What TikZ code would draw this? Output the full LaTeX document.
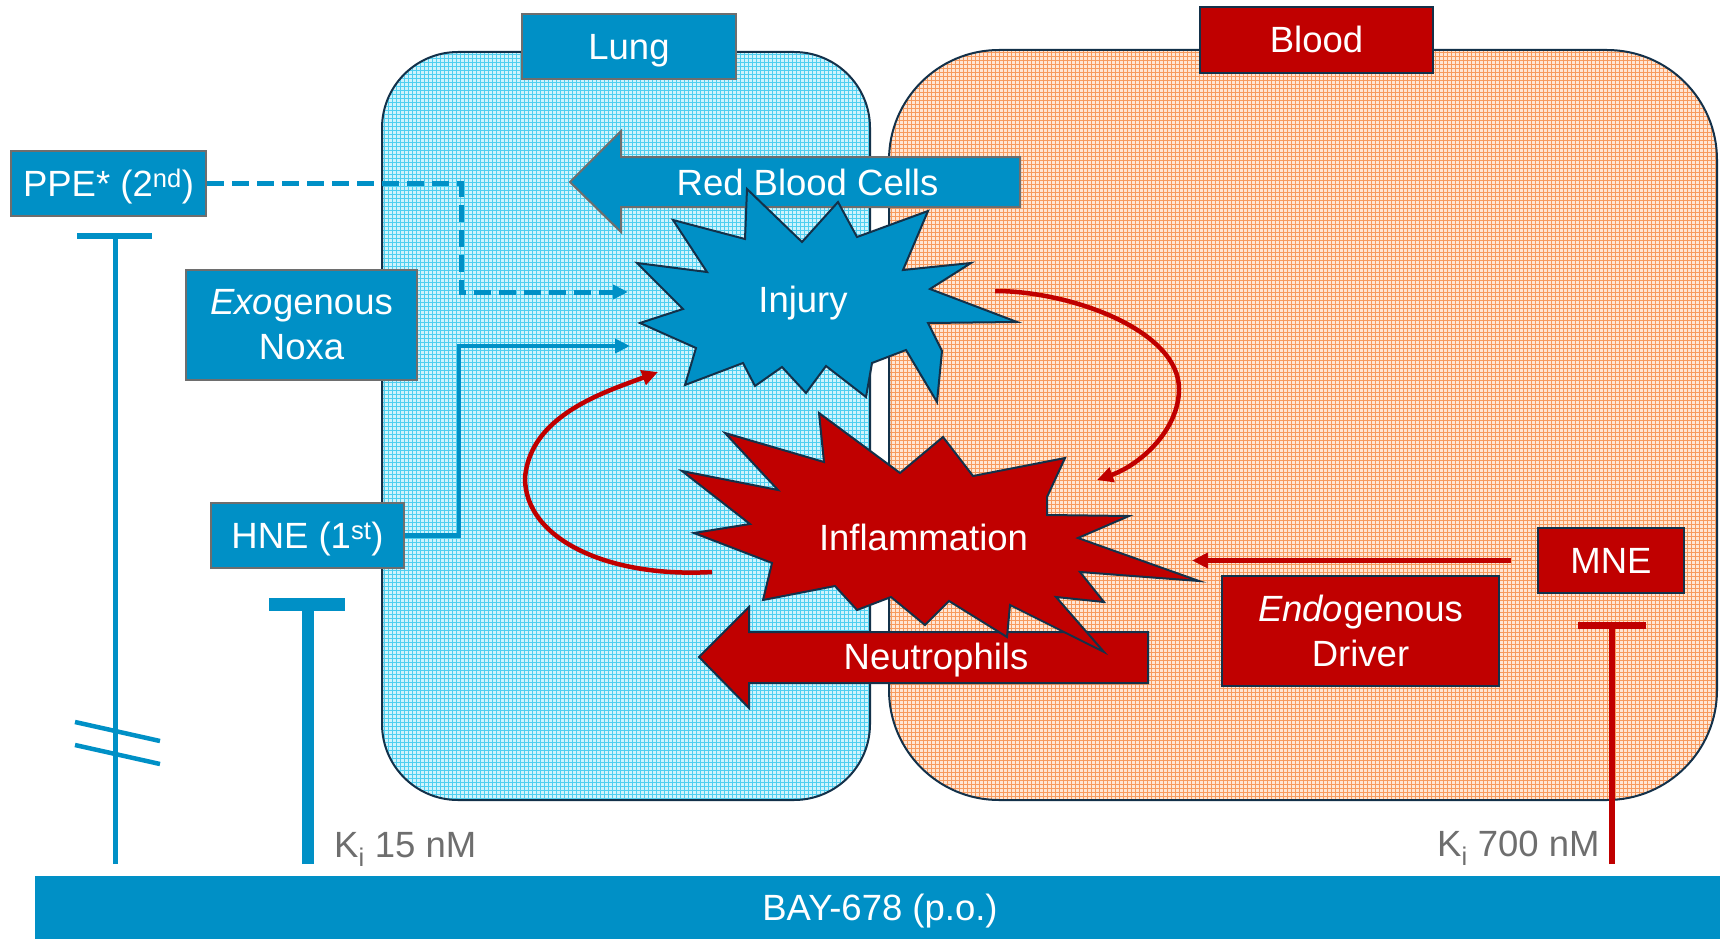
\documentclass[tikz,border=0pt]{standalone}
\usepackage{fontspec}
\setmainfont{Liberation Sans}
\usetikzlibrary{arrows.meta}
\definecolor{cblue}{HTML}{0090C6}
\definecolor{cred}{HTML}{C00000}
\definecolor{navy}{HTML}{13314A}
\definecolor{bgrey}{HTML}{6E6E6E}
\definecolor{lungbase}{HTML}{CFF3FC}
\definecolor{lunggrid}{HTML}{4FCFF0}
\definecolor{bloodbase}{HTML}{FFE6D5}
\definecolor{bloodgrid}{HTML}{F79A5E}
\definecolor{kigrey}{HTML}{6E6E6E}
\begin{document}
\begin{tikzpicture}[x=1pt,y=-1pt,
  txt/.style={font=\fontsize{36.5}{45}\selectfont, text=white},
  bluebox/.style={txt, fill=cblue, draw=bgrey, line width=2pt, inner sep=0pt},
  redbox/.style={txt, fill=cred, draw=navy, line width=2.5pt, inner sep=0pt},
  oneline/.style={text height=27pt, text depth=1pt},
  twoline/.style={align=center},
  lbl/.style={txt, anchor=base, inner sep=0pt},
  kitxt/.style={font=\fontsize{36.5}{45}\selectfont, text=kigrey, anchor=base west, inner sep=0pt},
  compart/.style={draw=navy, line width=2pt},
  blueline/.style={draw=cblue, line width=4.5pt, -{Triangle[length=15pt,width=14pt]}},
  bluedash/.style={draw=cblue, line width=5pt, dash pattern=on 17pt off 8pt, -{Triangle[length=15pt,width=14pt]}},
  redline/.style={draw=cred, line width=4.5pt, -{Triangle[length=16pt,width=15pt]}},
  blockblue/.style={fill=cblue, draw=bgrey, line width=2pt, line join=miter},
  blockred/.style={fill=cred, draw=navy, line width=2pt, line join=miter},
  starblue/.style={fill=cblue, draw=navy, line width=2pt, line join=miter},
  starred/.style={fill=cred, draw=navy, line width=2pt, line join=miter},
]
\useasboundingbox (0,0) rectangle (1720,939);

% ---------- compartments ----------
\begin{scope}
  \clip[rounded corners=76pt] (382,52) rectangle (870,800);
  \fill[lungbase] (382,52) rectangle (870,800);
  \foreach \x in {384,388,...,870} \draw[lunggrid, line width=0.9pt] (\x,52) -- (\x,800);
  \foreach \y in {54,58,...,800} \draw[lunggrid, line width=0.9pt] (382,\y) -- (870,\y);
\end{scope}
\draw[compart, rounded corners=76pt] (382,52) rectangle (870,800);

\begin{scope}
  \clip[rounded corners=110pt] (889,50) rectangle (1717,800);
  \fill[bloodbase] (889,50) rectangle (1717,800);
  \foreach \x in {891,895,...,1717} \draw[bloodgrid, line width=0.9pt] (\x,50) -- (\x,800);
  \foreach \y in {52,56,...,800} \draw[bloodgrid, line width=0.9pt] (889,\y) -- (1717,\y);
\end{scope}
\draw[compart, rounded corners=110pt] (889,50) rectangle (1717,800);

\node[bluebox, oneline, minimum width=214pt, minimum height=65pt] (lunglbl) at (629,46.5) {Lung};
\node[redbox, oneline, minimum width=233pt, minimum height=66pt] (bloodlbl) at (1316.5,40) {Blood};

% ---------- Red Blood Cells arrow ----------
\draw[blockblue] (570,182) -- (621,131) -- (621,157) -- (1020,157) -- (1020,207) -- (621,207) -- (621,232) -- cycle;
\node[lbl] (rbc) at (807.5,195) {Red Blood Cells};

% ---------- Injury star ----------
\draw[starblue] (747,189) -- (802,242) -- (838,202) -- (857,237) -- (928,211) -- (903,270) -- (971,263) -- (930,289) -- (1017,322) -- (928,323) -- (942,351) -- (937,402) -- (906,350) -- (872,363) -- (866,397) -- (826,366) -- (806,393) -- (782,367) -- (755,386) -- (743,363) -- (685,385) -- (696,348) -- (640,323) -- (683,309) -- (637,263) -- (707,272) -- (673,220) -- (745,239) -- cycle;
\node[lbl] (injury) at (803,312) {Injury};

% ---------- Neutrophils arrow ----------
\draw[blockred] (699,657) -- (749,607) -- (749,632) -- (1148,632) -- (1148,683) -- (749,683) -- (749,708) -- cycle;
\node[lbl] (neutro) at (936,669) {Neutrophils};

% ---------- Inflammation star ----------
\draw[starred] (819,413) -- (900,473) -- (943,437) -- (973,476) -- (1065,458) -- (1047,497) -- (1047,515) -- (1129,516) -- (1078,538) -- (1199,581) -- (1080,572) -- (1104,602) -- (1056,597) -- (1104,652) -- (1010,605) -- (1007,637) -- (949,601) -- (925,625) -- (891,597) -- (857,610) -- (835,586) -- (763,600) -- (772,563) -- (694,533) -- (750,524) -- (682,471) -- (778,490) -- (725,433) -- (824,462) -- cycle;
\node[lbl] (inflam) at (923.5,550) {Inflammation};

% ---------- side boxes ----------
\node[bluebox, oneline, minimum width=195pt, minimum height=65pt] (ppe) at (108.5,183.5) {PPE* (2\textsuperscript{nd})};
\node[bluebox, twoline, minimum width=231pt, minimum height=110pt] (exo) at (301.5,325) {\textit{Exo}genous\\Noxa};
\node[bluebox, oneline, minimum width=193pt, minimum height=65pt] (hne) at (307.5,535.5) {HNE (1\textsuperscript{st})};
\node[redbox, oneline, minimum width=146pt, minimum height=65pt] (mne) at (1611,560.5) {MNE};
\node[redbox, twoline, minimum width=277pt, minimum height=110pt] (endo) at (1360.5,631) {\textit{Endo}genous\\Driver};

% ---------- connectors ----------
\coordinate (cA) at (461,292);
\coordinate (injA) at (628,292);
\coordinate (cB) at (459,346);
\coordinate (injB) at (630,346);
\draw[bluedash] (ppe.east) -| (cA) -- (injA);
\draw[blueline] (hne.east) -| (cB) -- (injB);

\coordinate (lpS) at (712,572);
\coordinate (lpE) at (658,372);
\draw[redline] (lpS) .. controls (610,578) and (525,540) .. (525,478) .. controls (530,415) and (605,392) .. (lpE);
\coordinate (rpS) at (995,291);
\coordinate (rpE) at (1097,480);
\draw[redline] (rpS) .. controls (1070,291) and (1179,330) .. (1179,389) .. controls (1179,430) and (1140,465) .. (rpE);

\coordinate (inflT) at (1192,560.5);
\draw[redline] ([xshift=-26pt]mne.west) -- (inflT);

% ---------- drug bar and inhibition lines ----------
\node[fill=cblue, inner sep=0pt, oneline, txt, minimum width=1690pt, minimum height=63pt] (bay) at (880,907.5) {BAY-678 (p.o.)};

\coordinate (ppeB) at (115,864);
\coordinate (ppeT) at (115,236);
\draw[cblue, line width=5pt] (ppeB) -- (ppeT);
\draw[cblue, line width=6pt] ([xshift=-38pt]ppeT) -- ([xshift=37pt]ppeT);
\draw[cblue, line width=4.5pt] (75,722) -- (160,741);
\draw[cblue, line width=4.5pt] (75,745) -- (160,764);

\coordinate (hneB) at (308,864);
\coordinate (hneT) at (308,604.5);
\draw[cblue, line width=12pt] (hneB) -- (hneT);
\draw[cblue, line width=13pt] ([xshift=-39pt]hneT) -- ([xshift=37pt]hneT);

\coordinate (mneB) at (1612,864);
\coordinate (mneT) at (1612,625.5);
\draw[cred, line width=5.5pt] (mneB) -- (mneT);
\draw[cred, line width=7pt] ([xshift=-34pt]mneT) -- ([xshift=34pt]mneT);

\node[kitxt] (ki1) at (334,857) {K\textsubscript{i} 15 nM};
\node[kitxt] (ki2) at (1437,856) {K\textsubscript{i} 700 nM};
\end{tikzpicture}
\end{document}
